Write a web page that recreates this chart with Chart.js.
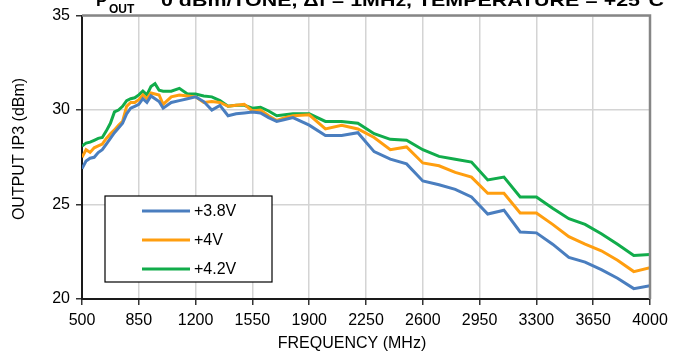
<!DOCTYPE html>
<html>
<head>
<meta charset="utf-8">
<script src="https://cdn.jsdelivr.net/npm/chart.js@4"></script>
<style>
  html, body { margin: 0; padding: 0; background: #fff; }
  #wrap { width: 681px; height: 358px; }
</style>
</head>
<body>
<div id="wrap"><canvas id="ip3Chart" width="681" height="358"></canvas></div>
<script>
// ── Output IP3 vs frequency, three supply voltages ──
const freqMHz = [
  500, 525, 550, 575, 600, 625, 650, 675, 700, 725, 750, 775, 800, 825, 850, 875, 900, 925, 950, 975, 1000,
  1050, 1100, 1150, 1200, 1250, 1300, 1350, 1400, 1450, 1500, 1550, 1600, 1650, 1700, 1750, 1800,
  1900, 2000, 2100, 2200, 2300, 2400, 2500, 2600, 2700, 2800, 2900, 3000,
  3100, 3200, 3300, 3400, 3500, 3600, 3700, 3800, 3900, 4000
];
const ip3V38 = [
  26.9, 27.3, 27.45, 27.5, 27.75, 27.9, 28.2, 28.5, 28.8, 29.05, 29.3, 29.8, 30.1, 30.2, 30.3, 30.6, 30.4, 30.75, 30.6, 30.45, 30.1,
  30.4, 30.5, 30.6, 30.7, 30.45, 30.0, 30.25, 29.7, 29.8, 29.85, 29.9, 29.85, 29.6, 29.4, 29.5, 29.6,
  29.2, 28.65, 28.65, 28.8, 27.8, 27.4, 27.15, 26.25, 26.05, 25.8, 25.4, 24.5,
  24.7, 23.55, 23.5, 22.9, 22.2, 21.95, 21.55, 21.1, 20.55, 20.7
];
const ip3V40 = [
  27.5, 27.9, 27.76, 28.0, 28.1, 28.2, 28.5, 28.75, 28.95, 29.2, 29.4, 30.2, 30.4, 30.4, 30.55, 30.8, 30.6, 30.9, 30.85, 30.8, 30.3,
  30.7, 30.8, 30.75, 30.7, 30.4, 30.45, 30.4, 30.2, 30.25, 30.3, 29.95, 30.0, 29.7, 29.45, 29.6, 29.7,
  29.75, 29.0, 29.2, 29.0, 28.55, 27.9, 28.05, 27.2, 27.05, 26.7, 26.45, 25.6,
  25.6, 24.55, 24.55, 23.95, 23.3, 22.9, 22.55, 22.05, 21.45, 21.65
];
const ip3V42 = [
  28.1, 28.25, 28.3, 28.4, 28.5, 28.55, 28.9, 29.3, 29.9, 30.0, 30.2, 30.5, 30.6, 30.65, 30.8, 31.0, 30.8, 31.25, 31.4, 31.05, 31.0,
  31.0, 31.15, 30.85, 30.85, 30.75, 30.7, 30.5, 30.2, 30.25, 30.25, 30.1, 30.15, 29.95, 29.7, 29.75, 29.8,
  29.8, 29.4, 29.4, 29.3, 28.75, 28.45, 28.4, 27.9, 27.55, 27.4, 27.25, 26.3,
  26.45, 25.4, 25.4, 24.8, 24.25, 23.95, 23.45, 22.9, 22.3, 22.35
];
const seriesLabels = ['+3.8V', '+4V', '+4.2V'];
const seriesColors = ['#4a7ebf', '#ff9e0f', '#11ac4b'];
const xTicks = [500, 850, 1200, 1550, 1900, 2250, 2600, 2950, 3300, 3650, 4000];
const yTicks = [20, 25, 30, 35];

const FONT = '"Liberation Sans", Arial, sans-serif';

function toPoints(ys) {
    return freqMHz.map((f, i) => ({ x: f, y: ys[i] }));
}

// frame (top/right gray), cut-off header, axis titles and boxed legend
const decorPlugin = {
    id: 'decor',
    afterDatasetsDraw(chart) {
        const { ctx, chartArea: a } = chart;
        ctx.save();
        // gray top + right frame
        ctx.strokeStyle = '#868686';
        ctx.lineWidth = 2.5;
        ctx.beginPath();
        ctx.moveTo(a.left, a.top);
        ctx.lineTo(a.right, a.top);
        ctx.lineTo(a.right, a.bottom);
        ctx.stroke();

        // legend box
        const lx = 105, ly = 196, lw = 167, lh = 86;
        ctx.fillStyle = '#fff';
        ctx.fillRect(lx, ly, lw, lh);
        ctx.strokeStyle = '#000';
        ctx.lineWidth = 1.2;
        ctx.strokeRect(lx, ly, lw, lh);
        const rows = [211, 240, 269];
        ctx.font = '16px ' + FONT;
        ctx.textBaseline = 'middle';
        ctx.textAlign = 'left';
        seriesLabels.forEach((lab, i) => {
            ctx.strokeStyle = seriesColors[i];
            ctx.lineWidth = 3;
            ctx.beginPath();
            ctx.moveTo(142, rows[i]);
            ctx.lineTo(190, rows[i]);
            ctx.stroke();
            ctx.fillStyle = '#000';
            ctx.fillText(lab, 194, rows[i] + 1);
        });

        // axis titles
        ctx.fillStyle = '#000';
        ctx.font = '16px ' + FONT;
        ctx.textAlign = 'center';
        ctx.fillText('FREQUENCY (MHz)', 352, 344);
        ctx.save();
        ctx.translate(20, 149);
        ctx.rotate(-Math.PI / 2);
        ctx.fillText('OUTPUT IP3 (dBm)', 0, 0);
        ctx.restore();

        // header line, cut off by the top edge
        ctx.textAlign = 'left';
        ctx.textBaseline = 'alphabetic';
        ctx.font = 'bold 17px ' + FONT;
        ctx.fillText('P', 96, 6);
        ctx.font = 'bold 12px ' + FONT;
        ctx.fillText('OUT', 109, 13);
        const head = '0 dBm/TONE, \u0394f = 1MHz, TEMPERATURE = +25\u00b0C';
        ctx.font = 'bold 17px ' + FONT;
        const w = ctx.measureText(head).width;
        const target = 503;
        ctx.save();
        ctx.translate(161, 6);
        ctx.scale(target / w, 1);
        ctx.fillText(head, 0, 0);
        ctx.restore();
        ctx.restore();
    }
};

const ctx = document.getElementById('ip3Chart').getContext('2d');
new Chart(ctx, {
    type: 'line',
    data: {
        datasets: [ip3V38, ip3V40, ip3V42].map((ys, i) => ({
            label: seriesLabels[i],
            data: toPoints(ys),
            borderColor: seriesColors[i],
            backgroundColor: seriesColors[i],
            borderWidth: 3,
            pointRadius: 0,
            tension: 0,
            fill: false
        }))
    },
    options: {
        responsive: false,
        animation: false,
        devicePixelRatio: 1,
        layout: { padding: { left: 0, top: 12, right: 31, bottom: 0 } },
        plugins: {
            legend: { display: false },
            tooltip: { enabled: false },
            title: { display: false }
        },
        scales: {
            x: {
                type: 'linear',
                min: 500, max: 4000,
                afterBuildTicks: s => { s.ticks = xTicks.map(v => ({ value: v })); },
                afterFit: s => { s.height = 59; },
                ticks: { color: '#000', font: { family: FONT, size: 16 }, padding: 6, maxRotation: 0, autoSkip: false, callback: v => String(v) },
                grid: { color: '#d4d4d4', lineWidth: 1.5, tickColor: '#333', tickLength: 6 },
                border: { color: '#1a1a1a', width: 2 }
            },
            y: {
                min: 20, max: 35,
                afterBuildTicks: s => { s.ticks = yTicks.map(v => ({ value: v })); },
                afterFit: s => { s.width = 82; },
                ticks: { color: '#000', font: { family: FONT, size: 16 }, padding: 6, callback: v => String(v) },
                grid: { color: '#d4d4d4', lineWidth: 1.5, tickColor: '#333', tickLength: 6 },
                border: { color: '#1a1a1a', width: 2 }
            }
        }
    },
    plugins: [decorPlugin]
});
</script>
</body>
</html>
